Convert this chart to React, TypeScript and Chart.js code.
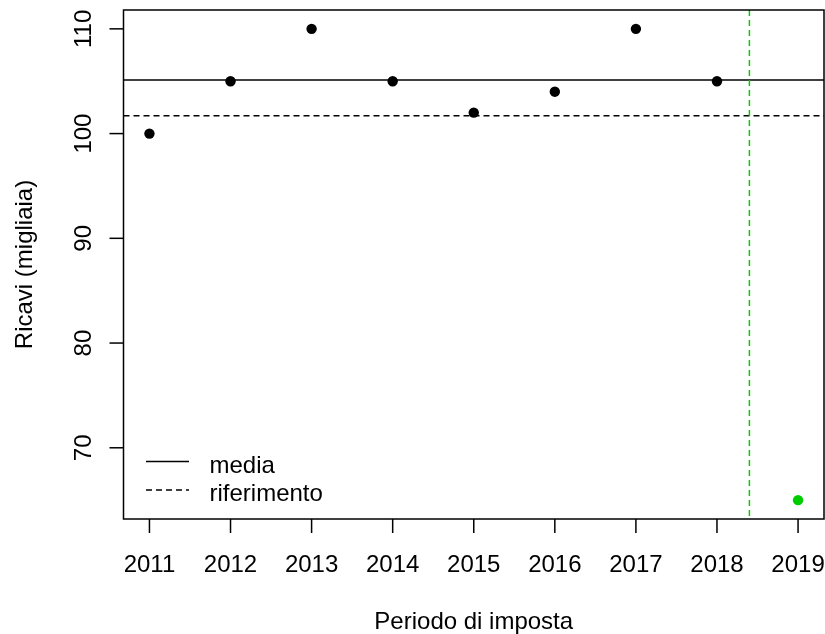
import React, { useEffect, useRef } from "react";
import { Chart, registerables } from "chart.js";

Chart.register(...registerables);

const years = [2011, 2012, 2013, 2014, 2015, 2016, 2017, 2018];
const revenues = [100, 105, 110, 105, 102, 104, 110, 105];
const forecastYears = [2019];
const forecastRevenues = [65];
const referenceValue = 101.7;
const cutoffYear = 2018.4;
const xTicks = [2011, 2012, 2013, 2014, 2015, 2016, 2017, 2018, 2019];
const yTicks = [70, 80, 90, 100, 110];
const legendLabels = ["media", "riferimento"];
const xTitle = "Periodo di imposta";
const yTitle = "Ricavi (migliaia)";

const meanValue = revenues.reduce((a, b) => a + b, 0) / revenues.length;

const FONT = "24px 'Liberation Sans', Arial, sans-serif";
const GREEN = "#00CD00";

const rPlot = {
  id: "rPlot",
  beforeDatasetsDraw(chart: any) {
    const { ctx, chartArea: a, scales } = chart;
    const x = scales.x;
    const y = scales.y;
    ctx.save();
    ctx.beginPath();
    ctx.rect(a.left, a.top, a.right - a.left, a.bottom - a.top);
    ctx.clip();
    ctx.strokeStyle = "#000";
    ctx.lineWidth = 1.5;
    const ym = y.getPixelForValue(meanValue);
    ctx.setLineDash([]);
    ctx.beginPath();
    ctx.moveTo(a.left, ym);
    ctx.lineTo(a.right, ym);
    ctx.stroke();
    const yr = y.getPixelForValue(referenceValue);
    ctx.setLineDash([6, 4]);
    ctx.beginPath();
    ctx.moveTo(a.left, yr);
    ctx.lineTo(a.right, yr);
    ctx.stroke();
    const xc = x.getPixelForValue(cutoffYear);
    ctx.strokeStyle = GREEN;
    ctx.beginPath();
    ctx.moveTo(xc, a.top);
    ctx.lineTo(xc, a.bottom);
    ctx.stroke();
    ctx.restore();
  },
  afterDraw(chart: any) {
    const { ctx, chartArea: a, scales } = chart;
    const x = scales.x;
    const y = scales.y;
    ctx.save();
    ctx.strokeStyle = "#000";
    ctx.fillStyle = "#000";
    ctx.lineWidth = 1.5;
    ctx.setLineDash([]);
    ctx.strokeRect(a.left, a.top, a.right - a.left, a.bottom - a.top);
    ctx.font = FONT;
    ctx.textAlign = "center";
    ctx.textBaseline = "alphabetic";
    xTicks.forEach((t) => {
      const px = x.getPixelForValue(t);
      ctx.beginPath();
      ctx.moveTo(px, a.bottom);
      ctx.lineTo(px, a.bottom + 14);
      ctx.stroke();
      ctx.fillText(String(t), px, a.bottom + 52.5);
    });
    yTicks.forEach((t) => {
      const py = y.getPixelForValue(t);
      ctx.beginPath();
      ctx.moveTo(a.left, py);
      ctx.lineTo(a.left - 14, py);
      ctx.stroke();
      ctx.save();
      ctx.translate(a.left - 33, py);
      ctx.rotate(-Math.PI / 2);
      ctx.fillText(String(t), 0, 0);
      ctx.restore();
    });
    ctx.fillText(xTitle, (a.left + a.right) / 2, a.bottom + 110);
    ctx.save();
    ctx.translate(32, (a.top + a.bottom) / 2);
    ctx.rotate(-Math.PI / 2);
    ctx.fillText(yTitle, 0, 0);
    ctx.restore();
    ctx.textAlign = "left";
    const dashes = [[], [6, 4]];
    legendLabels.forEach((lab, i) => {
      const ly = a.bottom - 57.5 + i * 28.5;
      ctx.setLineDash(dashes[i]);
      ctx.beginPath();
      ctx.moveTo(a.left + 22.5, ly);
      ctx.lineTo(a.left + 65.5, ly);
      ctx.stroke();
      ctx.setLineDash([]);
      ctx.fillText(lab, a.left + 86, ly + 11);
    });
    ctx.restore();
  },
};

export default function App() {
  const ref = useRef<HTMLCanvasElement | null>(null);
  useEffect(() => {
    document.body.style.margin = "0";
    const canvas = ref.current;
    if (!canvas) return;
    const chart = new Chart(canvas, {
      type: "scatter",
      data: {
        datasets: [
          {
            data: years.map((yr, i) => ({ x: yr, y: revenues[i] })),
            backgroundColor: "#000",
            borderWidth: 0,
            pointRadius: 5.2,
          },
          {
            data: forecastYears.map((yr, i) => ({ x: yr, y: forecastRevenues[i] })),
            backgroundColor: GREEN,
            borderWidth: 0,
            pointRadius: 5.2,
          },
        ],
      },
      options: {
        responsive: false,
        animation: false,
        devicePixelRatio: 1,
        layout: { autoPadding: false, padding: { left: 123.5, top: 10, right: 1, bottom: 115 } },
        plugins: { legend: { display: false }, tooltip: { enabled: false } },
        scales: {
          x: { type: "linear", min: 2010.68, max: 2019.32, display: false },
          y: { type: "linear", min: 63.2, max: 111.8, display: false },
        },
      },
      plugins: [rPlot],
    });
    return () => chart.destroy();
  }, []);
  return (
    <div style={{ width: 825, height: 634, background: "#fff" }}>
      <canvas ref={ref} width={825} height={634} />
    </div>
  );
}
